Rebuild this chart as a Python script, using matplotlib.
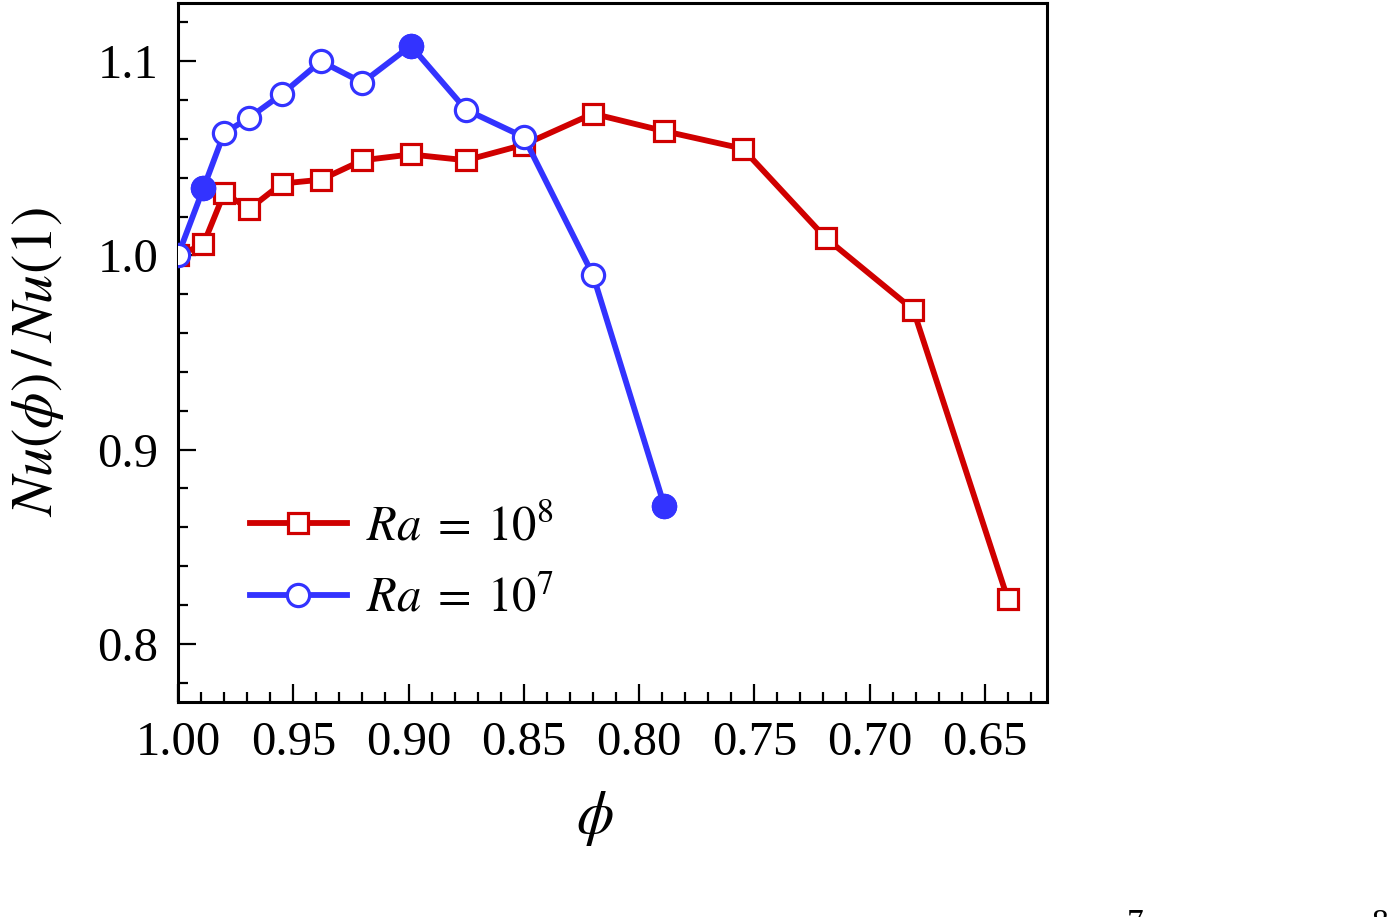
import matplotlib
matplotlib.use("Agg")
import matplotlib.pyplot as plt
from matplotlib.ticker import MultipleLocator, FormatStrFormatter

phi_ra8 = [1.0, 0.989, 0.98, 0.969, 0.955, 0.938, 0.92, 0.899, 0.875, 0.85, 0.82, 0.789, 0.755, 0.719, 0.681, 0.64]
nu_ra8 = [1.000, 1.0057, 1.032, 1.024, 1.037, 1.039, 1.049, 1.052, 1.049, 1.057, 1.073, 1.064, 1.055, 1.009, 0.972, 0.823]

phi_ra7 = [1.0, 0.989, 0.98, 0.969, 0.955, 0.938, 0.92, 0.899, 0.875, 0.85, 0.82, 0.789]
nu_ra7 = [1.000, 1.0345, 1.063, 1.071, 1.083, 1.100, 1.089, 1.108, 1.075, 1.061, 0.990, 0.871]
filled_ra7 = [1, 7, 11]

label_ra8 = r'$Ra\;=\;10^8$'
label_ra7 = r'$Ra\;=\;10^7$'

plt.rcParams['font.family'] = ['Liberation Serif', 'DejaVu Serif']
plt.rcParams['mathtext.fontset'] = 'stix'

red = '#D00000'
blue = '#3333FF'

fig = plt.figure(figsize=(13.94, 9.17), dpi=100)
ax = fig.add_axes([178/1394, 1 - 702/917, (1047 - 178)/1394, (702 - 3)/917])

ax.plot(phi_ra8, nu_ra8, '-', color=red, lw=4.2, marker='s', ms=14,
        mfc='white', mec=red, mew=2.3, label=label_ra8, zorder=3)
ax.plot(phi_ra7, nu_ra7, '-', color=blue, lw=4.2, marker='o', ms=16,
        mfc='white', mec=blue, mew=2.3, label=label_ra7, zorder=4)
ax.plot([phi_ra7[i] for i in filled_ra7], [nu_ra7[i] for i in filled_ra7], 'o',
        color=blue, ms=16, mfc=blue, mec=blue, mew=2.3, zorder=5)

ax.set_xlim(1.0, 0.623)
ax.set_ylim(0.77, 1.13)
ax.xaxis.set_major_locator(MultipleLocator(0.05))
ax.xaxis.set_minor_locator(MultipleLocator(0.01))
ax.yaxis.set_major_locator(MultipleLocator(0.1))
ax.yaxis.set_minor_locator(MultipleLocator(0.02))
ax.xaxis.set_major_formatter(FormatStrFormatter('%.2f'))
ax.yaxis.set_major_formatter(FormatStrFormatter('%.1f'))

ax.tick_params(which='both', direction='in', top=False, right=False, width=1.6,
               labelsize=35)
ax.tick_params(which='major', length=13, pad=14)
ax.tick_params(which='minor', length=7)
for s in ax.spines.values():
    s.set_linewidth(2.2)

ax.set_xlabel(r'$\phi$', fontsize=43)
ax.xaxis.set_label_coords((595 - 178) / 869, -(819 - 702) / 699)
ax.xaxis.label.set_va('center')
ax.set_ylabel(r'$Nu(\phi)\,/\,Nu(1)$', fontsize=42)
ax.yaxis.set_label_coords(-(178 - 38) / 869, (702 - 362) / 699)
ax.yaxis.label.set_va('center')

leg = ax.legend(loc='upper left', bbox_to_anchor=(0.06, 0.31), frameon=False,
                fontsize=35, handlelength=2.0, handletextpad=0.4,
                labelspacing=0.55, borderaxespad=0)

fig.text(1135/1394, 1 - 908/917, '7', fontsize=24, ha='center', va='top')
fig.text(1380/1394, 1 - 908/917, '8', fontsize=24, ha='center', va='top')

fig.savefig('out.png', dpi=100)
